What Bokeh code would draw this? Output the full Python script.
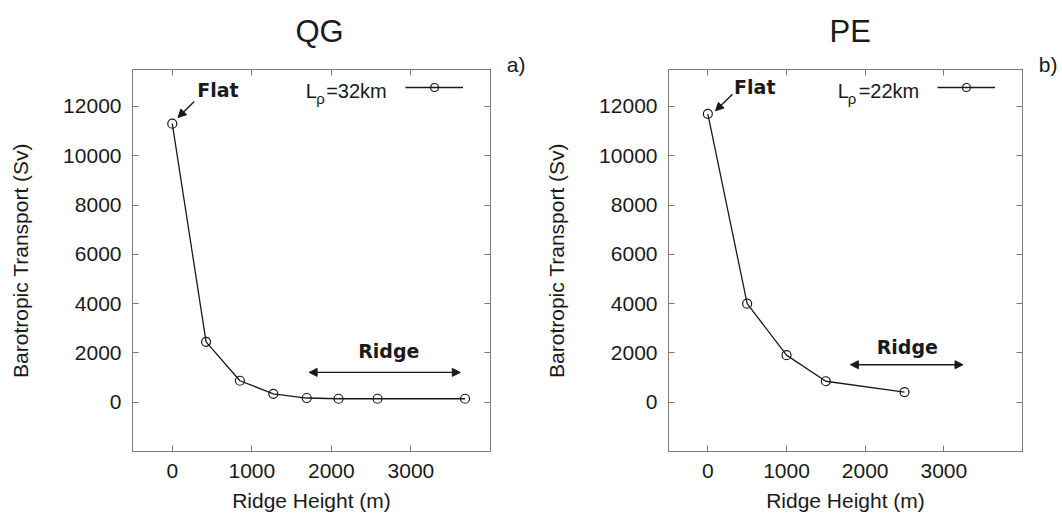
from bokeh.plotting import figure
from bokeh.models import (Range1d, LinearAxis, FixedTicker, Label, Arrow, NormalHead,
                          Legend, LegendItem, Title)
from bokeh.layouts import row
from bokeh.embed import file_html
from bokeh.resources import INLINE

# ---- data ----
QG_HEIGHT = [0, 425, 850, 1270, 1690, 2090, 2580, 3680]
QG_TRANSPORT = [11300, 2450, 870, 340, 170, 140, 140, 140]
PE_HEIGHT = [0, 500, 1000, 1500, 2500]
PE_TRANSPORT = [11700, 4000, 1910, 850, 410]
X_TICKS = [0, 1000, 2000, 3000]
Y_TICKS = [0, 2000, 4000, 6000, 8000, 10000, 12000]
X_RANGE = (-500, 4000)
Y_RANGE = (-2000, 13500)
TITLES = ["QG", "PE"]
TAGS = ["a)", "b)"]
LEGEND_TEXT = ["=32km", "=22km"]
X_LABEL = "Ridge Height (m)"
Y_LABEL = "Barotropic Transport (Sv)"

FONT = "Liberation Sans"
BOLD_FONT = "DejaVu Sans"
FRAME = "#7a7a7a"
INK = "#1a1a1a"


def style_axis(ax, show_labels):
    ax.axis_line_color = FRAME
    ax.major_tick_line_color = FRAME
    ax.minor_tick_line_color = None
    ax.major_tick_in = 6
    ax.major_tick_out = 0
    if show_labels:
        ax.major_label_text_font = FONT
        ax.major_label_text_font_size = "21px"
        ax.major_label_text_color = INK
        ax.axis_label_text_font = FONT
        ax.axis_label_text_font_size = "21px"
        ax.axis_label_text_font_style = "normal"
        ax.axis_label_text_color = INK
    else:
        ax.major_label_text_font_size = "1px"
        ax.major_label_text_color = None
        ax.major_label_standoff = 0


def make_panel(xs, ys, title, tag, ltext, bl, br, a):
    p = figure(width=531, height=516, output_backend="svg", toolbar_location=None,
               x_range=Range1d(*X_RANGE), y_range=Range1d(*Y_RANGE),
               min_border_left=bl, min_border_right=br,
               min_border_top=69, min_border_bottom=65)
    p.grid.visible = False
    p.outline_line_color = FRAME
    p.background_fill_color = "white"
    p.border_fill_color = "white"

    p.xaxis.ticker = FixedTicker(ticks=X_TICKS)
    p.yaxis.ticker = FixedTicker(ticks=Y_TICKS)
    p.xaxis.axis_label = X_LABEL
    p.yaxis.axis_label = Y_LABEL
    p.xaxis.major_label_standoff = 12
    p.xaxis.axis_label_standoff = 8
    p.yaxis.major_label_standoff = 11
    p.yaxis.axis_label_standoff = 28
    style_axis(p.xaxis[0], True)
    style_axis(p.yaxis[0], True)

    top = LinearAxis(ticker=FixedTicker(ticks=X_TICKS))
    right = LinearAxis(ticker=FixedTicker(ticks=Y_TICKS))
    style_axis(top, False)
    style_axis(right, False)
    p.add_layout(top, "above")
    p.add_layout(right, "right")

    # panel tag (right of the frame top) and panel title
    p.add_layout(Title(text=tag, align="right", offset=-35, standoff=-12,
                       text_font=FONT, text_font_size="21px",
                       text_font_style="normal", text_color=INK), "above")
    p.add_layout(Title(text=title, align="left", offset=a["title_off"], standoff=16,
                       text_font=FONT, text_font_size="31px",
                       text_font_style="normal", text_color=INK), "above")

    ln = p.line(xs, ys, line_color=INK, line_width=1.3)
    sc = p.scatter(xs, ys, marker="circle", size=9, fill_color=None,
                   line_color=INK, line_width=1.2)

    legend = Legend(items=[LegendItem(label=" ", renderers=[ln, sc])],
                    location=a["legend_loc"], glyph_width=58, glyph_height=20,
                    padding=0, margin=0, label_standoff=0, label_width=0,
                    label_text_font_size="1px",
                    border_line_color=None, background_fill_alpha=0)
    p.add_layout(legend)

    # legend text L_rho=..km
    p.add_layout(Label(x=a["L_x"], y=12634, text="L", text_font=FONT,
                       text_font_size="20px", text_color=INK,
                       text_baseline="alphabetic"))
    p.add_layout(Label(x=a["rho_x"], y=12310, text="\u03c1", text_font=FONT,
                       text_font_size="15px", text_color=INK,
                       text_baseline="alphabetic"))
    p.add_layout(Label(x=a["eq_x"], y=12634, text=ltext, text_font=FONT,
                       text_font_size="20px", text_color=INK,
                       text_baseline="alphabetic"))

    # Flat annotation
    p.add_layout(Label(x=a["flat_x"], y=a["flat_y"], text="Flat", text_font=BOLD_FONT,
                       text_font_style="bold", text_font_size="19px",
                       text_color=INK, text_baseline="middle"))
    p.add_layout(Arrow(x_start=a["fa"][0], y_start=a["fa"][1],
                       x_end=a["fa"][2], y_end=a["fa"][3],
                       line_color=INK, line_width=1.4,
                       end=NormalHead(size=8, fill_color=INK, line_color=INK)))

    # Ridge annotation
    p.add_layout(Label(x=a["ridge_x"], y=a["ridge_y"], text="Ridge", text_font=BOLD_FONT,
                       text_font_style="bold", text_font_size="19px",
                       text_color=INK, text_align="center", text_baseline="middle"))
    p.add_layout(Arrow(x_start=a["ra"][0], y_start=a["ra"][2],
                       x_end=a["ra"][1], y_end=a["ra"][2],
                       line_color=INK, line_width=1.4,
                       start=NormalHead(size=8, fill_color=INK, line_color=INK),
                       end=NormalHead(size=8, fill_color=INK, line_color=INK)))
    return p


ann_qg = dict(legend_loc=(273, 354), L_x=1679, rho_x=1809, eq_x=1934,
              title_off=163, flat_x=314, flat_y=12670,
              fa=(276, 12200, 72, 11553), ridge_x=2721, ridge_y=2075,
              ra=(1720, 3620, 1210))
ann_pe = dict(legend_loc=(269, 354), L_x=1651, rho_x=1778, eq_x=1917,
              title_off=161, flat_x=334, flat_y=12783,
              fa=(313, 12500, 98, 11824), ridge_x=2536, ridge_y=2257,
              ra=(1812, 3244, 1521))

p1 = make_panel(QG_HEIGHT, QG_TRANSPORT, TITLES[0], TAGS[0], LEGEND_TEXT[0], 132, 41, ann_qg)
p2 = make_panel(PE_HEIGHT, PE_TRANSPORT, TITLES[1], TAGS[1], LEGEND_TEXT[1], 137, 40, ann_pe)

layout = row(p1, p2)
open("out.html", "w").write(file_html(layout, INLINE))
